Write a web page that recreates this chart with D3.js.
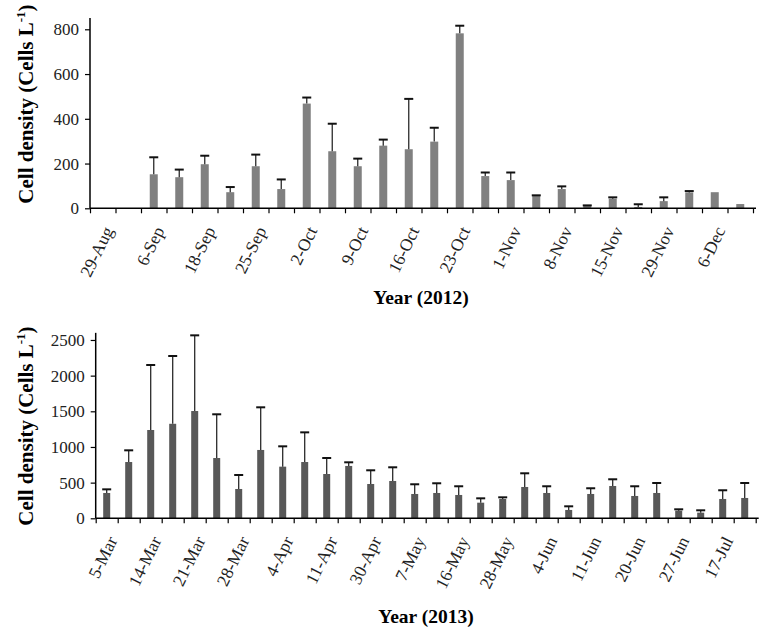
<!DOCTYPE html>
<html>
<head>
<meta charset="utf-8">
<script src="https://cdn.jsdelivr.net/npm/d3@7/dist/d3.min.js"></script>
<style>
  html, body { margin: 0; padding: 0; background: #fff; }
  svg text { font-family: "Liberation Serif", "Times New Roman", serif; }
</style>
</head>
<body>
<svg id="chart" width="766" height="640"></svg>
<script>
// ---- Data: 2012 panel ----
const labels2012 = ["29-Aug","","6-Sep","","18-Sep","","25-Sep","","2-Oct","","9-Oct","","16-Oct","","23-Oct","","1-Nov","","8-Nov","","15-Nov","","29-Nov","","6-Dec",""];
const values2012 = [0,0,152,139,197,72,188,86,468,255,188,280,264,298,782,144,126,58,86,13,43,6,32,71,72,19];
const errors2012 = [null,null,76,34,38,23,52,43,27,123,34,27,225,62,34,16,34,0,12,0,6,12,17,6,null,null];
const yTicks2012 = [0,200,400,600,800];

// ---- Data: 2013 panel ----
const labels2013 = ["5-Mar","","14-Mar","","21-Mar","","28-Mar","","4-Apr","","11-Apr","","30-Apr","","7-May","","16-May","","28-May","","4-Jun","","11-Jun","","20-Jun","","27-Jun","","17-Jul",""];
const values2013 = [355,789,1238,1325,1504,845,411,958,724,789,621,734,481,523,341,355,327,219,271,439,355,117,341,453,313,355,107,79,271,285];
const errors2013 = [51,164,911,950,1061,613,196,598,285,416,224,51,192,192,136,136,122,61,23,192,94,51,80,94,136,140,19,33,122,210];
const yTicks2013 = [0,500,1000,1500,2000,2500];

const svg = d3.select("#chart");

function panel(opts) {
  const { labels, values, errors, yTicks, yMax, x0, x1, y0, yTop, barColor, barW, capW, title, titleX, titleY, ytitleY } = opts;
  const n = values.length;
  const idx = d3.range(n);
  const x = d3.scaleBand().domain(idx).range([x0, x1]).paddingInner(0).paddingOuter(0);
  const xb = d3.scaleLinear().domain([0, n]).range([x0, x1]);
  const y = d3.scaleLinear().domain([0, yMax]).range([y0, yTop]);
  const g = svg.append("g");

  // bars
  g.selectAll("rect.bar").data(idx).join("rect")
    .attr("x", i => x(i) + x.bandwidth() / 2 - barW / 2)
    .attr("width", barW)
    .attr("y", i => y(values[i]))
    .attr("height", i => y(0) - y(values[i]))
    .attr("fill", barColor);

  // error bars
  const eIdx = idx.filter(i => errors[i] !== null && values[i] > 0);
  g.selectAll("line.stem").data(eIdx).join("line")
    .attr("x1", i => x(i) + x.bandwidth() / 2)
    .attr("x2", i => x(i) + x.bandwidth() / 2)
    .attr("y1", i => y(values[i]))
    .attr("y2", i => y(values[i] + errors[i]))
    .attr("stroke", "#2b2b2b").attr("stroke-width", 1.3);
  g.selectAll("line.cap").data(eIdx).join("line")
    .attr("x1", i => x(i) + x.bandwidth() / 2 - capW / 2)
    .attr("x2", i => x(i) + x.bandwidth() / 2 + capW / 2)
    .attr("y1", i => y(values[i] + errors[i]))
    .attr("y2", i => y(values[i] + errors[i]))
    .attr("stroke", "#111").attr("stroke-width", 2);

  // y axis
  const ya = g.append("g").attr("transform", `translate(${x0},0)`)
    .call(d3.axisLeft(y).tickValues(yTicks).tickSize(5).tickPadding(6).tickFormat(d3.format("d")));
  ya.select(".domain").attr("stroke", "#000").attr("stroke-width", 1.5).attr("d", `M-0,${y0}V${yTop}`);
  ya.selectAll(".tick line").attr("stroke", "#000").attr("stroke-width", 1.2);
  ya.selectAll(".tick text").attr("font-size", 17).attr("fill", "#222")
    .attr("font-family", "Liberation Serif");

  // x axis boundary ticks
  const xa = g.append("g").attr("transform", `translate(0,${y0})`)
    .call(d3.axisBottom(xb).tickValues(d3.range(n + 1)).tickSize(5).tickFormat(""));
  xa.select(".domain").attr("stroke", "#000").attr("stroke-width", 1.5).attr("d", `M${x0},0H${x1 + 3}`);
  xa.selectAll(".tick line").attr("stroke", "#000").attr("stroke-width", 1.2);

  // x labels
  g.selectAll("text.xl").data(idx.filter(i => labels[i] !== "")).join("text")
    .attr("class", "xl")
    .attr("transform", i => `translate(${x(i) + x.bandwidth() / 2 + 11},${y0 + 22}) rotate(-64)`)
    .attr("text-anchor", "end")
    .attr("font-size", 17.5)
    .attr("fill", "#222")
    .text(i => labels[i]);

  // x title
  g.append("text").attr("x", titleX).attr("y", titleY)
    .attr("text-anchor", "middle").attr("font-size", 19.5).attr("font-weight", "bold")
    .text(title);

  // y title
  const yt = g.append("text")
    .attr("transform", `translate(33,${ytitleY}) rotate(-90)`)
    .attr("text-anchor", "middle").attr("font-size", 21).attr("font-weight", "bold");
  yt.append("tspan").text("Cell density (Cells L");
  yt.append("tspan").attr("font-size", 13).attr("dy", -8).text("-1");
  yt.append("tspan").attr("dy", 8).text(")");
}

panel({
  labels: labels2012, values: values2012, errors: errors2012, yTicks: yTicks2012,
  yMax: 850, x0: 90, x1: 753, y0: 208.3, yTop: 208.3 - 850 * 0.22375,
  barColor: "#808080", barW: 8, capW: 9,
  title: "Year (2012)", titleX: 421, titleY: 304, ytitleY: 104
});

panel({
  labels: labels2013, values: values2013, errors: errors2013, yTicks: yTicks2013,
  yMax: 2600, x0: 95.7, x1: 755.7, y0: 518.3, yTop: 518.3 - 2600 * 0.07133,
  barColor: "#585858", barW: 7, capW: 9,
  title: "Year (2013)", titleX: 426, titleY: 623, ytitleY: 426
});
</script>
</body>
</html>
